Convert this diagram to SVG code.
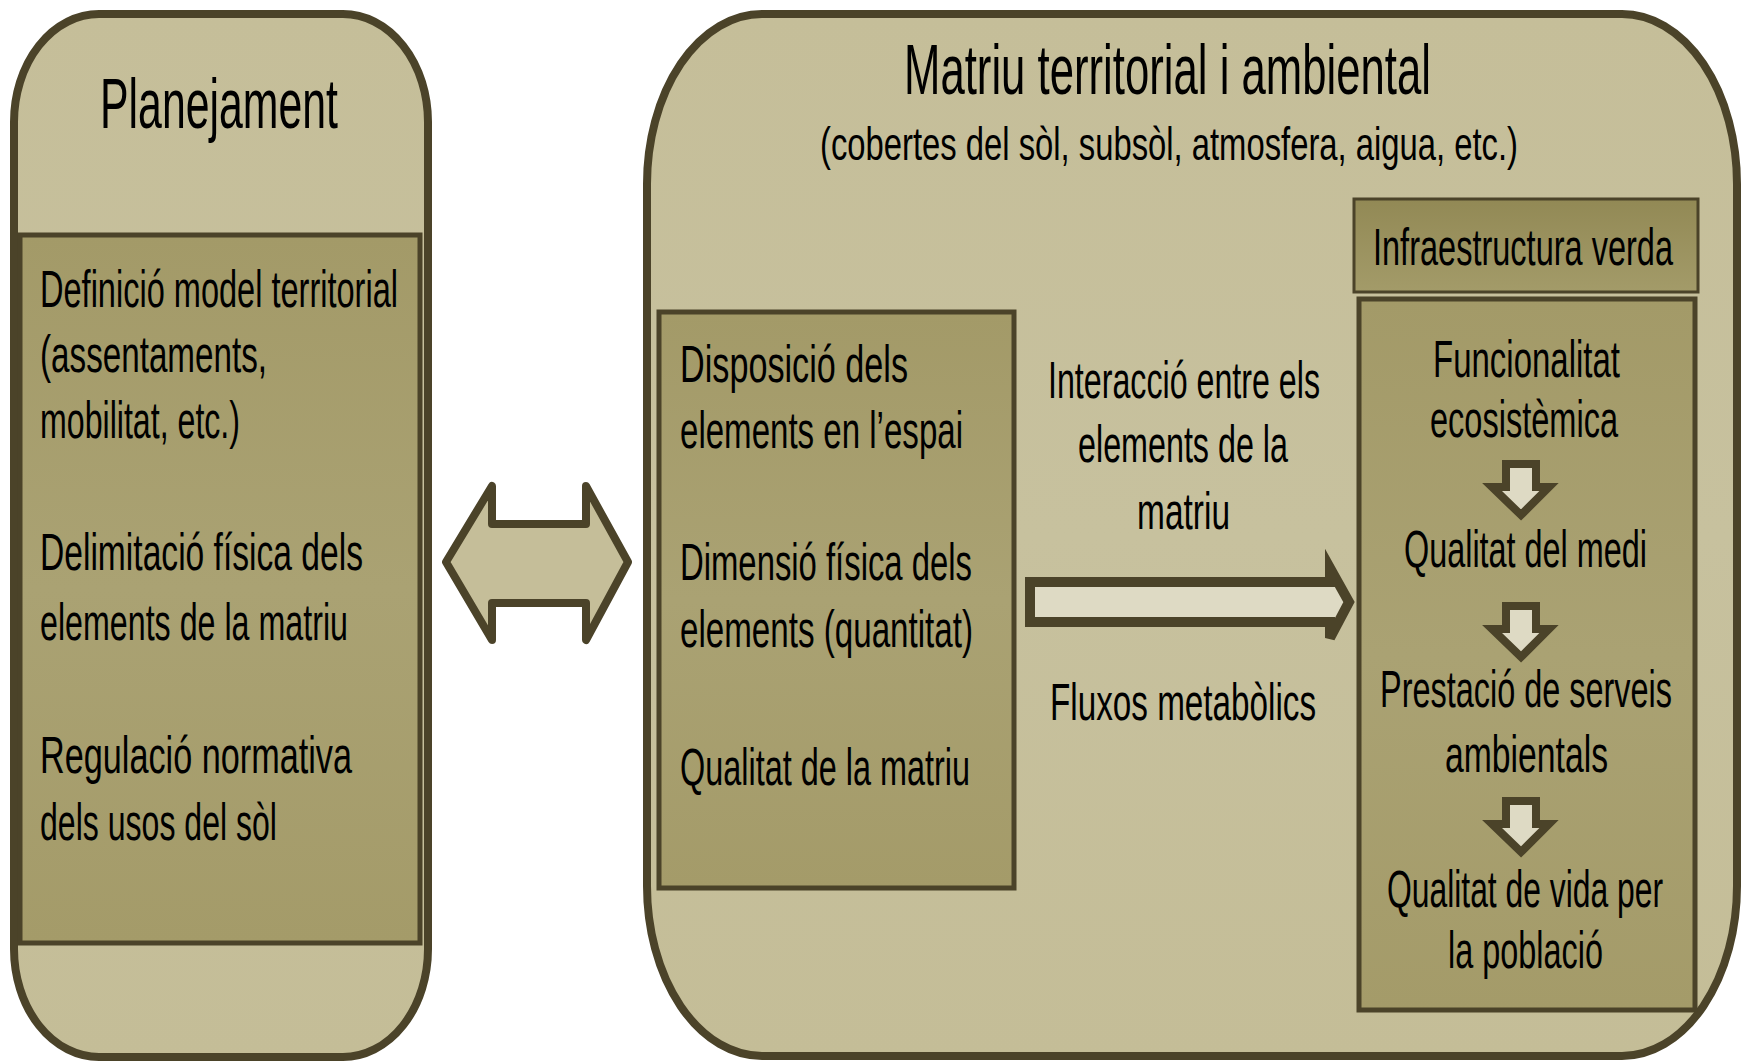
<svg xmlns="http://www.w3.org/2000/svg" width="1750" height="1063" viewBox="0 0 1750 1063">
<defs>
<linearGradient id="gOuter" x1="0" y1="0" x2="0" y2="1">
<stop offset="0" stop-color="#c5be99"/>
<stop offset="0.5" stop-color="#c7c19e"/>
<stop offset="1" stop-color="#c4bd97"/>
</linearGradient>
<linearGradient id="gInner" x1="0" y1="0" x2="0" y2="1">
<stop offset="0" stop-color="#a39a68"/>
<stop offset="0.5" stop-color="#aaa273"/>
<stop offset="1" stop-color="#a49b69"/>
</linearGradient>
<linearGradient id="gHead" x1="0" y1="0" x2="0" y2="1">
<stop offset="0" stop-color="#928955"/>
<stop offset="1" stop-color="#a39b69"/>
</linearGradient>
<style>
.outer{fill:url(#gOuter);stroke:#4b4329;stroke-width:8}
.inner{fill:url(#gInner);stroke:#4b4329;stroke-width:5}
.head{fill:url(#gHead);stroke:#4b4329;stroke-width:3}
.t{font-family:"Liberation Sans",Arial,sans-serif;fill:#000}
.b{font-size:52px}
.h{font-size:70px}
.s{font-size:46px}
.arrowLight{fill:#dedac4;stroke:#4b4329;stroke-width:10;stroke-linejoin:miter}
.arrowBig{fill:#c5be99;stroke:#4b4329;stroke-width:8;stroke-linejoin:round}
.arrowSmall{fill:#dedac4;stroke:#4b4329;stroke-width:8;stroke-linejoin:miter}
</style>
</defs>
<rect width="1750" height="1063" fill="#ffffff"/>

<g id="planejament">
<rect class="outer" x="14" y="14" width="414" height="1043" rx="85" ry="108"/>
<text class="t h" x="100" y="128" textLength="238" lengthAdjust="spacingAndGlyphs">Planejament</text>
</g>

<g id="planejament-items">
<rect class="inner" x="20" y="235" width="400" height="708"/>
<text class="t b" x="40" y="307" textLength="358" lengthAdjust="spacingAndGlyphs">Definició model territorial</text>
<text class="t b" x="40" y="372" textLength="227" lengthAdjust="spacingAndGlyphs">(assentaments,</text>
<text class="t b" x="40" y="438" textLength="200" lengthAdjust="spacingAndGlyphs">mobilitat, etc.)</text>
<text class="t b" x="40" y="570" textLength="323" lengthAdjust="spacingAndGlyphs">Delimitació  física dels</text>
<text class="t b" x="40" y="640" textLength="308" lengthAdjust="spacingAndGlyphs">elements de la matriu</text>
<text class="t b" x="40" y="773" textLength="312" lengthAdjust="spacingAndGlyphs">Regulació  normativa</text>
<text class="t b" x="40" y="840" textLength="237" lengthAdjust="spacingAndGlyphs">dels usos del sòl</text>
</g>

<g id="matriu">
<rect class="outer" x="647" y="14" width="1090" height="1042" rx="115" ry="170"/>
<text class="t h" x="904" y="94" textLength="527" lengthAdjust="spacingAndGlyphs">Matriu territorial i ambiental</text>
<text class="t s" x="820" y="160" textLength="698" lengthAdjust="spacingAndGlyphs">(cobertes del sòl, subsòl, atmosfera, aigua, etc.)</text>
</g>

<g id="elements">
<rect class="inner" x="659" y="312" width="355" height="576"/>
<text class="t b" x="680" y="382" textLength="228" lengthAdjust="spacingAndGlyphs">Disposició  dels</text>
<text class="t b" x="680" y="448" textLength="283" lengthAdjust="spacingAndGlyphs">elements en l’espai</text>
<text class="t b" x="680" y="580" textLength="292" lengthAdjust="spacingAndGlyphs">Dimensió física dels</text>
<text class="t b" x="680" y="647" textLength="293" lengthAdjust="spacingAndGlyphs">elements (quantitat)</text>
<text class="t b" x="680" y="785" textLength="290" lengthAdjust="spacingAndGlyphs">Qualitat de la matriu</text>
</g>

<g id="interaccio">
<text class="t b" x="1048" y="398" textLength="272" lengthAdjust="spacingAndGlyphs">Interacció entre els</text>
<text class="t b" x="1078" y="462" textLength="210" lengthAdjust="spacingAndGlyphs">elements de la</text>
<text class="t b" x="1137" y="529" textLength="93" lengthAdjust="spacingAndGlyphs">matriu</text>
</g>

<g id="fluxos">
<text class="t b" x="1050" y="720" textLength="266" lengthAdjust="spacingAndGlyphs">Fluxos metabòlics</text>
</g>

<g id="infraestructura-header">
<rect class="head" x="1354" y="199" width="344" height="93"/>
<text class="t b" x="1373" y="265" textLength="300" lengthAdjust="spacingAndGlyphs">Infraestructura verda</text>
</g>

<g id="infraestructura-body">
<rect class="inner" x="1359" y="299" width="336" height="711"/>
<text class="t b" x="1433" y="377" textLength="187" lengthAdjust="spacingAndGlyphs">Funcionalitat</text>
<text class="t b" x="1430" y="437" textLength="188" lengthAdjust="spacingAndGlyphs">ecosistèmica</text>
<text class="t b" x="1404" y="567" textLength="243" lengthAdjust="spacingAndGlyphs">Qualitat del medi</text>
<text class="t b" x="1380" y="707" textLength="292" lengthAdjust="spacingAndGlyphs">Prestació de serveis</text>
<text class="t b" x="1445" y="772" textLength="163" lengthAdjust="spacingAndGlyphs">ambientals</text>
<text class="t b" x="1387" y="907" textLength="276" lengthAdjust="spacingAndGlyphs">Qualitat de vida per</text>
<text class="t b" x="1448" y="968" textLength="155" lengthAdjust="spacingAndGlyphs">la població</text>
</g>

<g id="connectors">
<path class="arrowBig" d="M446,562 L492,486 L492,524 L586,524 L586,486 L628,562 L586,640 L586,603 L492,603 L492,640 Z"/>
<path class="arrowLight" d="M1030,582 L1330,582 L1330,568 L1349,602 L1330,638 L1330,622 L1030,622 Z"/>
<path class="arrowSmall" d="M1506,464 L1536,464 L1536,487 L1549,487 L1521,515 L1492,487 L1506,487 Z"/>
<path class="arrowSmall" d="M1506,606 L1536,606 L1536,629 L1549,629 L1521,657 L1492,629 L1506,629 Z"/>
<path class="arrowSmall" d="M1506,801 L1536,801 L1536,824 L1549,824 L1521,852 L1492,824 L1506,824 Z"/>
</g>
</svg>
